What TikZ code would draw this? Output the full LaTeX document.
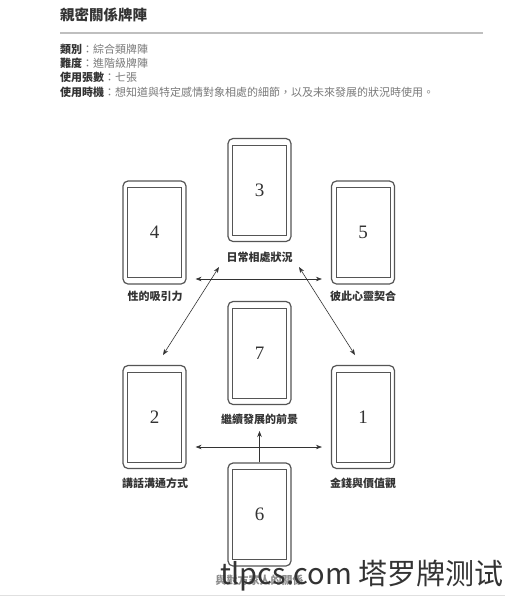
\documentclass[tikz,border=0pt]{standalone}
\usepackage{fontspec}
\setmainfont{Liberation Serif}
\newfontfamily\tcfont{Noto Sans CJK TC}
\newfontfamily\scfont{Noto Sans CJK SC}
\usetikzlibrary{arrows.meta,calc}
\definecolor{ink}{HTML}{333333}
\definecolor{soft}{HTML}{7A7A7A}
\definecolor{cardline}{HTML}{555555}
\tikzset{
  card/.style={draw=cardline, line width=1.2pt, rounded corners=5pt,
    minimum width=63pt, minimum height=103pt, inner sep=0pt,
    font=\fontsize{19}{19}\selectfont, text=ink},
  innerbox/.style={draw=cardline, line width=0.6pt},
  lab/.style={font=\tcfont\bfseries\fontsize{11}{12}\selectfont, text=ink, inner sep=0pt},
  conn/.style={draw=ink, line width=0.6pt},
  tip/.style={-{Stealth[length=6pt,width=4.5pt]}},
  tips/.style={{Stealth[length=6pt,width=4.5pt]}-{Stealth[length=6pt,width=4.5pt]}},
  hline/.style={anchor=west, inner sep=0pt}
}
\newcommand{\cardat}[3]{%
  \node[card] (#1) at (#2) {#3};
  \draw[innerbox] ($(#1.north west)+(5pt,-7pt)$) rectangle ($(#1.south east)+(-5pt,7pt)$);
}
\newcommand{\hfmt}{\tcfont\fontsize{11}{12}\selectfont}
\begin{document}
\begin{tikzpicture}[x=1pt,y=-1pt]
\useasboundingbox[fill=white] (0,0) rectangle (505,600);
% header
\node[hline, font=\tcfont\bfseries\fontsize{14.5}{16}\selectfont, text=ink] (title) at (60,15) {親密關係牌陣};
\draw[draw=black!25, line width=1.5pt] (60,33) coordinate (rl) -- (483,33) coordinate (rr);
\node[hline] (h1) at (60,49) {\hfmt\bfseries\color{ink}類別\mdseries\color{soft}：綜合類牌陣};
\node[hline] (h2) at (60,63) {\hfmt\bfseries\color{ink}難度\mdseries\color{soft}：進階級牌陣};
\node[hline] (h3) at (60,77) {\hfmt\bfseries\color{ink}使用張數\mdseries\color{soft}：七張};
\node[hline] (h4) at (60,92) {\hfmt\bfseries\color{ink}使用時機\mdseries\color{soft}：想知道與特定感情對象相處的細節，以及未來發展的狀況時使用。};
% cards
\cardat{c3}{259.5,190}{3}
\cardat{c4}{154.5,232.5}{4}
\cardat{c5}{363,232.5}{5}
\cardat{c7}{259.5,353}{7}
\cardat{c2}{154.5,417}{2}
\cardat{c1}{363,417}{1}
\cardat{c6}{259.5,514.5}{6}
% labels
\node[lab] (l3) at (259.5,257) {日常相處狀況};
\node[lab] (l4) at (155,296) {性的吸引力};
\node[lab] (l5) at (363,296) {彼此心靈契合};
\node[lab] (l7) at (259.5,419) {繼續發展的前景};
\node[lab] (l2) at (155,483) {講話溝通方式};
\node[lab] (l1) at (363,483) {金錢與價值觀};
\node[lab, text=black!45] (l6) at (259.5,580) {與對方家人的關係};
% connector ends
\coordinate (a45l) at ($(c4.east)+(9pt,0)$);
\coordinate (a45r) at ($(c5.west)+(-9pt,0)$);
\coordinate (a21l) at ($(c2.east)+(9pt,0)$);
\coordinate (a21r) at ($(c1.west)+(-9pt,0)$);
\coordinate (dl1) at (219,267);
\coordinate (dl2) at (163,355);
\coordinate (dr1) at (299,267);
\coordinate (dr2) at (355,355);
\coordinate (up) at (259.5,431);
% connectors
\draw[conn,tips] ($(a45l)+(0,46.5)$) -- ($(a45r)+(0,46.5)$);
\draw[conn,tips] (dl1) -- (dl2);
\draw[conn,tips] (dr1) -- (dr2);
\draw[conn,tips] ($(a21l)+(0,30)$) -- ($(a21r)+(0,30)$);
\draw[conn,tip] (c6.north) -- (up);
% bottom line and watermark
\draw[draw=black!12, line width=1pt] (0,595) coordinate (bl) -- (505,595) coordinate (br);
\node[anchor=base east, inner sep=0pt, text=black!80, font=\scfont\fontsize{29}{29}\selectfont] (wm) at (504,584) {tlpcs.com 塔罗牌测试};
\end{tikzpicture}
\end{document}
